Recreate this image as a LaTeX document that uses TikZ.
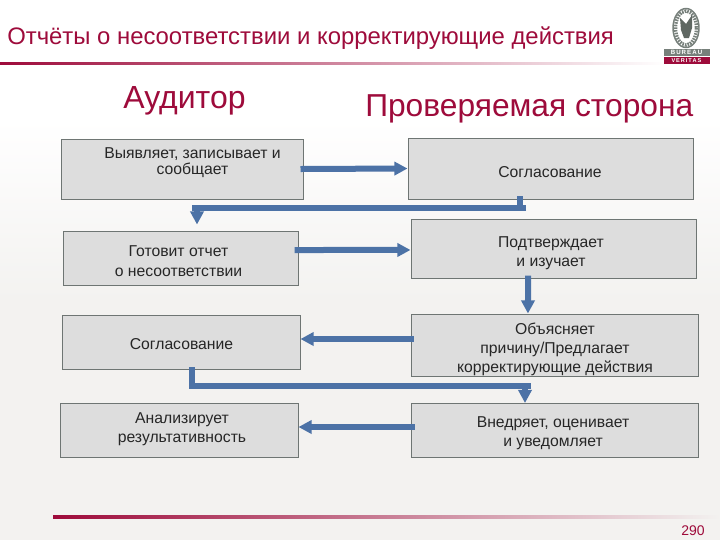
\documentclass[tikz,border=0pt]{standalone}
\usepackage{fontspec}
\setmainfont{Liberation Sans}
\usetikzlibrary{arrows.meta}
\definecolor{brand}{HTML}{9E0B3B}
\definecolor{pagebg}{HTML}{F3F2F0}
\definecolor{boxfill}{HTML}{DDDDDD}
\definecolor{boxline}{HTML}{6E7573}
\definecolor{flow}{HTML}{4C72A6}
\definecolor{boxtext}{HTML}{262626}
\definecolor{logogray}{HTML}{77807B}
\tikzset{
  x=0.75pt,y=-0.75pt,
  stepbox/.style 2 args={draw=boxline,fill=boxfill,line width=0.75pt,inner sep=0pt,
     minimum width=#1*0.75pt,minimum height=#2*0.75pt},
  boxlabel/.style={text=boxtext,align=center,inner sep=0pt},
  flowarrow/.style={draw=flow,line width=4.5pt,-{Triangle[width=9.8pt,length=9.8pt]}},
  flowbar/.style={draw=flow,line width=4.5pt},
  heading/.style={text=brand,inner sep=0pt,anchor=base west},
}
\newcommand{\lbl}[1]{\fontsize{11.8}{#1}\selectfont}
\begin{document}
\begin{tikzpicture}
\path[use as bounding box] (0,0) rectangle (720,540);
% background
\fill[white] (0,0) rectangle (720,120);
\shade[top color=white,bottom color=pagebg,shading angle=0] (0,120) rectangle (720,300);
\fill[pagebg] (0,300) rectangle (720,540);
% title, rules
\node[heading,font=\fontsize{17.9}{20}\selectfont] (title) at (7,44) {Отчёты о несоответствии и корректирующие действия};
\shade[left color=brand,right color=white] (0,62) rectangle (665,64.5);
\shade[left color=brand,right color=pagebg] (53,515) rectangle (720,518);
\node[heading,font=\fontsize{24}{26}\selectfont] (auditor) at (123,108) {Аудитор};
\node[heading,font=\fontsize{23.8}{26}\selectfont] (auditee) at (365,116) {Проверяемая сторона};
\node[heading,font=\fontsize{10.5}{12}\selectfont] (pagenum) at (681,535) {290};
% logo
\draw[logogray,line width=1.1pt] (686,28) ellipse (13 and 19.5);
\draw[logogray,line width=2.6pt,dash pattern=on 1.2pt off 0.8pt] (686,28) ellipse (10.5 and 17);
\fill[logogray!80!black] (680,18) -- (686,24) -- (692,15) -- (692,28) -- (689,38) -- (684,38) -- (681,30) -- cycle;
\node[fill=logogray,text=white,minimum width=34.5pt,minimum height=5.5pt,inner sep=0pt,font=\bfseries\fontsize{4.6}{5}\selectfont] (bureau) at (686.5,52.5) {B\,U\,R\,E\,A\,U};
\node[fill=brand,text=white,minimum width=34.5pt,minimum height=5pt,inner sep=0pt,font=\bfseries\fontsize{4.2}{5}\selectfont] (veritas) at (686.5,60.3) {V\,E\,R\,I\,T\,A\,S};
% boxes
\node[stepbox={242}{60}] (a1) at (182,169) {};
\node[stepbox={285}{61}] (b1) at (550.5,168.5) {};
\node[stepbox={235}{54}] (a2) at (180.5,258) {};
\node[stepbox={285}{59}] (b2) at (553.5,248.5) {};
\node[stepbox={238}{54}] (a3) at (181,342) {};
\node[stepbox={287}{62}] (b3) at (554.5,345) {};
\node[stepbox={238}{54}] (a4) at (179,430) {};
\node[stepbox={287}{54}] (b4) at (554.5,430) {};
% box labels
\node[boxlabel,font=\lbl{12}] (a1t) at (192.5,162.5) {Выявляет, записывает и\\сообщает};
\node[boxlabel,font=\lbl{13}] (b1t) at (550,172) {Согласование};
\node[boxlabel,font=\lbl{15}] (a2t) at (178.5,261) {Готовит отчет\\о несоответствии};
\node[boxlabel,font=\lbl{14.25}] (b2t) at (551,253) {Подтверждает\\и изучает};
\node[boxlabel,font=\lbl{13}] (a3t) at (181.5,344) {Согласование};
\node[boxlabel,font=\lbl{14.25}] (b3t) at (555,349) {Объясняет\\причину/Предлагает\\корректирующие действия};
\node[boxlabel,font=\lbl{14.25}] (a4t) at (182,429) {Анализирует\\результативность};
\node[boxlabel,font=\lbl{14.25}] (b4t) at (553,433.5) {Внедряет, оценивает\\и уведомляет};
% junction coordinates
\coordinate (j1a) at (520,196);
\coordinate (j1b) at (520,208);
\coordinate (j1r) at (526,208);
\coordinate (j1l) at (192,208);
\coordinate (j1c) at (197,208);
\coordinate (j1t) at (197,224.5);
\coordinate (j2a) at (192,367);
\coordinate (j2b) at (192,389);
\coordinate (j2c) at (192,386);
\coordinate (j2r) at (531,386);
\coordinate (j2d) at (525,386);
\coordinate (j2t) at (525,403);
% connectors
\draw[flowarrow] ([xshift=-2.25pt]a1.east) -- (b1.west);
\draw[flowbar] (j1a) -- (j1b);
\draw[flowbar] (j1r) -- (j1l);
\draw[flowarrow] (j1c) -- (j1t);
\draw[flowarrow] ([xshift=-3pt,yshift=6pt]a2.east) -- ([yshift=-1.1pt]b2.west);
\draw[flowarrow] ([xshift=-19.1pt,yshift=2.2pt]b2.south) -- ([xshift=-19.9pt]b3.north);
\draw[flowarrow] ([xshift=2.25pt,yshift=4.5pt]b3.west) -- ([yshift=2.25pt]a3.east);
\draw[flowbar] (j2a) -- (j2b);
\draw[flowbar] (j2c) -- (j2r);
\draw[flowarrow] (j2d) -- (j2t);
\draw[flowarrow] ([xshift=3pt,yshift=2.25pt]b4.west) -- ([yshift=2.25pt]a4.east);
\end{tikzpicture}
\end{document}
